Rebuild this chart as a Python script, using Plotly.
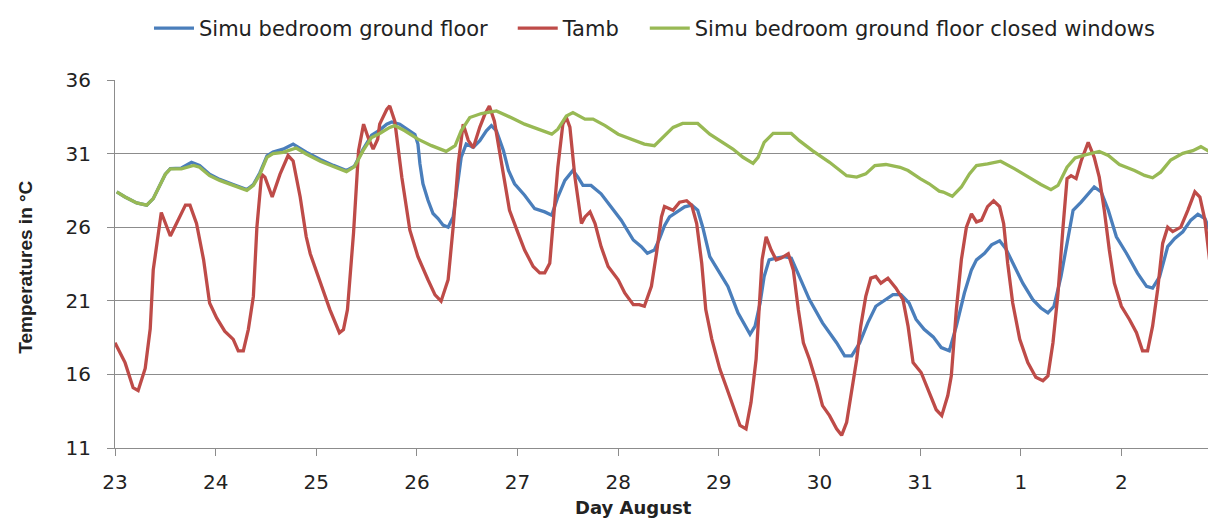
import plotly.graph_objects as go

# ---- data (time in days since 23 August 00:00) ----
tick_labels = ["23", "24", "25", "26", "27", "28", "29", "30", "31", "1", "2"]
y_ticks = [11, 16, 21, 26, 31, 36]

tamb_day = [0.0, 0.1, 0.18, 0.23, 0.3, 0.35, 0.38, 0.46, 0.55, 0.63, 0.70, 0.745, 0.81, 0.88, 0.94, 1.01, 1.09, 1.175,
            1.225, 1.275, 1.325, 1.375, 1.41, 1.457, 1.49, 1.562, 1.64, 1.72, 1.77, 1.84, 1.90, 1.94, 2.02, 2.135, 2.23,
            2.27, 2.31, 2.37, 2.42, 2.47, 2.515, 2.565, 2.61, 2.63, 2.70, 2.73, 2.78, 2.85, 2.93, 3.01, 3.11, 3.18, 3.24,
            3.31, 3.36, 3.41, 3.46, 3.51, 3.56, 3.625, 3.675, 3.72, 3.77, 3.84, 3.92, 4.005, 4.07, 4.155, 4.22, 4.27,
            4.32, 4.35, 4.40, 4.45, 4.485, 4.52, 4.57, 4.635, 4.67, 4.72, 4.77, 4.83, 4.90, 5.0, 5.065, 5.15, 5.21, 5.26,
            5.33, 5.38, 5.43, 5.46, 5.545, 5.61, 5.68, 5.73, 5.78, 5.83, 5.87, 5.93, 6.01, 6.07, 6.14, 6.21, 6.27, 6.32,
            6.37, 6.41, 6.43, 6.47, 6.52, 6.57, 6.62, 6.69, 6.74, 6.79, 6.84, 6.90, 6.97, 7.03, 7.10, 7.17, 7.22, 7.27,
            7.32, 7.37, 7.41, 7.46, 7.51, 7.56, 7.61, 7.68, 7.76, 7.83, 7.88, 7.93, 8.01, 8.09, 8.16, 8.215, 8.275, 8.31,
            8.36, 8.41, 8.46, 8.51, 8.56, 8.61, 8.67, 8.73, 8.79, 8.83, 8.87, 8.92, 8.99, 9.07, 9.15, 9.22, 9.27, 9.32,
            9.37, 9.42, 9.46, 9.50, 9.55, 9.60, 9.67, 9.73, 9.78, 9.83, 9.88, 9.93, 10.0, 10.08, 10.15, 10.21, 10.26,
            10.31, 10.36, 10.41, 10.46, 10.51, 10.59, 10.66, 10.73, 10.78, 10.83, 10.88, 10.94]
tamb_val = [18.15, 16.8, 15.1, 14.9, 16.4, 19.1, 23.1, 27.0, 25.4, 26.5, 27.5, 27.5, 26.25, 23.8, 20.85, 19.84, 18.94,
            18.38, 17.6, 17.6, 19.06, 21.3, 26.0, 29.6, 29.4, 28.05, 29.6, 30.87, 30.5, 28.05, 25.35, 24.2, 22.65, 20.4,
            18.83, 19.05, 20.4, 25.6, 31.2, 33.0, 32.1, 31.3, 31.98, 33.0, 34.0, 34.24, 33.2, 29.4, 25.8, 24.0, 22.43,
            21.4, 20.97, 22.43, 26.0, 30.3, 33.0, 31.9, 31.4, 32.8, 33.67, 34.24, 33.2, 30.5, 27.15, 25.6, 24.45, 23.33,
            22.9, 22.9, 23.55, 26.0, 30.07, 33.0, 33.45, 32.8, 29.4, 26.25, 26.7, 27.04, 26.25, 24.68, 23.33, 22.43,
            21.53, 20.74, 20.74, 20.63, 21.98, 24.2, 26.7, 27.4, 27.15, 27.7, 27.8, 27.5, 26.25, 23.55, 20.4, 18.4,
            16.36, 15.23, 13.9, 12.53, 12.3, 14.1, 17.03, 21.5, 23.8, 25.35, 24.45, 23.78, 23.9, 24.2, 23.1, 20.4,
            18.15, 17.03, 15.45, 13.88, 13.2, 12.3, 11.86, 12.75, 14.8, 17.03, 19.28, 21.3, 22.54, 22.65, 22.2, 22.54,
            21.86, 21.08, 19.28, 16.8, 16.13, 14.78, 13.6, 13.2, 14.56, 15.9, 20.4, 23.8, 26.0, 26.9, 26.36, 26.48, 27.4,
            27.8, 27.4, 26.25, 23.55, 20.85, 18.38, 16.8, 15.8, 15.57, 15.9, 18.15, 21.5, 26.0, 29.3, 29.5, 29.3, 30.5,
            31.76, 30.75, 29.4, 27.15, 24.45, 22.2, 20.63, 19.73, 18.83, 17.6, 17.6, 19.28, 21.75, 24.9, 26.0, 25.7,
            26.0, 27.15, 28.4, 28.05, 26.48, 23.55, 20.63]

simu_day = [0.017, 0.1, 0.215, 0.315, 0.38, 0.45, 0.5, 0.55, 0.66, 0.76, 0.84, 0.94, 1.04, 1.175, 1.31, 1.375, 1.44,
            1.51, 1.57, 1.67, 1.77, 1.90, 2.04, 2.17, 2.30, 2.38, 2.465, 2.55, 2.63, 2.70, 2.75, 2.83, 2.91, 2.98, 3.01,
            3.03, 3.06, 3.11, 3.16, 3.21, 3.26, 3.31, 3.36, 3.39, 3.44, 3.49, 3.56, 3.625, 3.69, 3.74, 3.79, 3.86, 3.91,
            3.97, 4.07, 4.17, 4.27, 4.34, 4.40, 4.47, 4.55, 4.60, 4.65, 4.73, 4.83, 4.93, 5.03, 5.15, 5.23, 5.29, 5.36,
            5.41, 5.46, 5.51, 5.58, 5.66, 5.73, 5.79, 5.84, 5.91, 5.99, 6.09, 6.19, 6.26, 6.31, 6.36, 6.41, 6.45, 6.50,
            6.57, 6.65, 6.72, 6.80, 6.90, 7.03, 7.17, 7.25, 7.32, 7.40, 7.48, 7.56, 7.65, 7.73, 7.81, 7.89, 7.96, 8.04,
            8.13, 8.21, 8.29, 8.36, 8.44, 8.51, 8.56, 8.64, 8.71, 8.79, 8.85, 8.94, 9.02, 9.12, 9.20, 9.27, 9.33, 9.40,
            9.47, 9.52, 9.60, 9.67, 9.73, 9.80, 9.87, 9.95, 10.05, 10.16, 10.25, 10.31, 10.38, 10.46, 10.53, 10.61,
            10.69, 10.76, 10.83, 10.94]
simu_val = [28.4, 28.05, 27.65, 27.5, 27.94, 28.95, 29.6, 29.98, 30.02, 30.4, 30.2, 29.6, 29.25, 28.9, 28.55, 28.9,
            29.7, 30.85, 31.1, 31.3, 31.65, 31.1, 30.6, 30.2, 29.85, 30.15, 31.3, 32.25, 32.6, 33.0, 33.15, 33.0, 32.66,
            32.3, 31.65, 30.3, 28.95, 27.83, 26.93, 26.59, 26.14, 26.0, 26.7, 28.27, 30.75, 31.65, 31.43, 31.88, 32.55,
            32.9, 32.55, 31.2, 29.85, 28.95, 28.17, 27.26, 27.04, 26.82, 28.05, 29.18, 29.85, 29.4, 28.84, 28.84, 28.27,
            27.38, 26.48, 25.13, 24.68, 24.23, 24.45, 25.2, 26.1, 26.7, 27.04, 27.38, 27.5, 27.15, 26.0, 24.0, 23.1,
            21.98, 20.18, 19.28, 18.72, 19.28, 20.85, 22.65, 23.78, 23.9, 24.0, 23.9, 22.65, 21.08, 19.5, 18.15, 17.26,
            17.26, 18.15, 19.5, 20.63, 21.08, 21.42, 21.42, 20.85, 19.73, 19.06, 18.55, 17.82, 17.6, 19.28, 21.53, 23.1,
            23.78, 24.23, 24.8, 25.08, 24.56, 23.33, 22.2, 21.08, 20.51, 20.18, 20.63, 22.65, 25.35, 27.15, 27.7, 28.27,
            28.73, 28.39, 27.15, 25.35, 24.23, 22.88, 21.98, 21.86, 22.65, 24.68, 25.24, 25.69, 26.48, 26.88, 26.59,
            24.68]

closed_day = [0.017, 0.1, 0.215, 0.315, 0.38, 0.45, 0.5, 0.55, 0.66, 0.78, 0.84, 0.94, 1.04, 1.175, 1.31, 1.375, 1.44,
              1.51, 1.57, 1.67, 1.80, 1.90, 2.04, 2.17, 2.30, 2.38, 2.465, 2.55, 2.63, 2.73, 2.78, 2.88, 3.01, 3.145,
              3.29, 3.38, 3.44, 3.525, 3.64, 3.79, 3.87, 3.97, 4.07, 4.20, 4.34, 4.40, 4.485, 4.55, 4.67, 4.75, 4.87,
              5.0, 5.13, 5.26, 5.36, 5.43, 5.48, 5.545, 5.64, 5.79, 5.91, 6.01, 6.14, 6.24, 6.34, 6.39, 6.45, 6.54, 6.72,
              6.80, 6.93, 7.10, 7.27, 7.37, 7.46, 7.55, 7.66, 7.80, 7.88, 8.0, 8.09, 8.19, 8.23, 8.32, 8.41, 8.49, 8.56,
              8.67, 8.80, 8.94, 9.07, 9.20, 9.30, 9.37, 9.46, 9.54, 9.65, 9.78, 9.87, 9.98, 10.13, 10.23, 10.31, 10.39,
              10.49, 10.61, 10.71, 10.79, 10.85, 10.94]
closed_val = [28.4, 28.05, 27.65, 27.5, 27.94, 28.95, 29.6, 29.96, 29.96, 30.19, 30.07, 29.5, 29.18, 28.84, 28.5, 28.84,
              29.6, 30.75, 31.0, 31.09, 31.38, 30.97, 30.48, 30.12, 29.78, 30.12, 31.2, 32.1, 32.37, 32.78, 32.9, 32.55,
              31.98, 31.54, 31.15, 31.54, 32.55, 33.45, 33.72, 33.9, 33.67, 33.34, 33.0, 32.66, 32.32, 32.66, 33.56,
              33.79, 33.34, 33.34, 32.9, 32.32, 31.98, 31.65, 31.54, 31.98, 32.32, 32.78, 33.05, 33.05, 32.32, 31.88,
              31.31, 30.75, 30.34, 30.75, 31.76, 32.37, 32.37, 31.88, 31.2, 30.41, 29.5, 29.4, 29.62, 30.19, 30.26,
              30.07, 29.85, 29.3, 28.95, 28.45, 28.39, 28.1, 28.73, 29.62, 30.19, 30.3, 30.48, 29.96, 29.4, 28.9, 28.55,
              28.84, 30.07, 30.7, 30.93, 31.15, 30.87, 30.26, 29.85, 29.52, 29.36, 29.74, 30.57, 31.02, 31.2, 31.47,
              31.24, 30.87]

series_names = ["Simu bedroom ground floor", "Tamb", "Simu bedroom ground floor closed windows"]

# ---- figure ----
BLUE, RED, GREEN = "#4A7EBB", "#BE4B48", "#98B954"
GRID = "#8C8C8C"
TXT = "#222222"
PAD = "\u00a0\u00a0\u00a0"   # spacing between legend entries

fig = go.Figure()
fig.add_trace(go.Scatter(x=simu_day, y=simu_val, mode="lines", name=series_names[0] + PAD,
                         line=dict(color=BLUE, width=3.3)))
fig.add_trace(go.Scatter(x=tamb_day, y=tamb_val, mode="lines", name=series_names[1] + PAD,
                         line=dict(color=RED, width=3.3)))
fig.add_trace(go.Scatter(x=closed_day, y=closed_val, mode="lines", name=series_names[2],
                         line=dict(color=GREEN, width=3.3)))

# page body has an 8px margin, so the figure is 8px smaller and margins are reduced by 8px
fig.update_layout(
    width=1208, height=513,
    margin=dict(l=107, r=0, t=69, b=73),
    paper_bgcolor="white", plot_bgcolor="white",
    font=dict(family="DejaVu Sans", size=20, color=TXT),
    showlegend=True,
    legend=dict(orientation="h", x=0.49, xanchor="center", y=1.14, yanchor="middle",
                font=dict(family="DejaVu Sans", size=21, color=TXT),
                itemwidth=40, bgcolor="rgba(0,0,0,0)"),
    xaxis=dict(range=[0, 10.94], tickmode="array", tickvals=list(range(len(tick_labels))),
               ticktext=tick_labels, showgrid=False, zeroline=False,
               showline=True, linecolor=GRID, linewidth=1,
               ticks="outside", ticklen=7, tickcolor=GRID, ticklabelstandoff=9,
               tickfont=dict(family="DejaVu Sans", size=20, color=TXT)),
    yaxis=dict(range=[11, 36], tickmode="array", tickvals=y_ticks, showgrid=True, gridcolor=GRID, gridwidth=1,
               zeroline=False, showline=True, linecolor=GRID, linewidth=1,
               ticks="outside", ticklen=7, tickcolor=GRID, ticklabelstandoff=12,
               tickfont=dict(family="DejaVu Sans", size=20, color=TXT)),
    annotations=[
        dict(text="<b>Day August</b>", xref="paper", yref="paper", x=(633 - 115) / 1101, y=-60 / 371,
             xanchor="center", yanchor="middle", showarrow=False,
             font=dict(family="DejaVu Sans", size=18, color=TXT)),
        dict(text="<b>Temperatures in °C</b>", xref="paper", yref="paper", x=-(115 - 26) / 1101, y=0.49,
             xanchor="center", yanchor="middle", showarrow=False, textangle=-90,
             font=dict(family="Liberation Sans", size=19, color=TXT)),
    ],
)

fig.write_html("out.html")
